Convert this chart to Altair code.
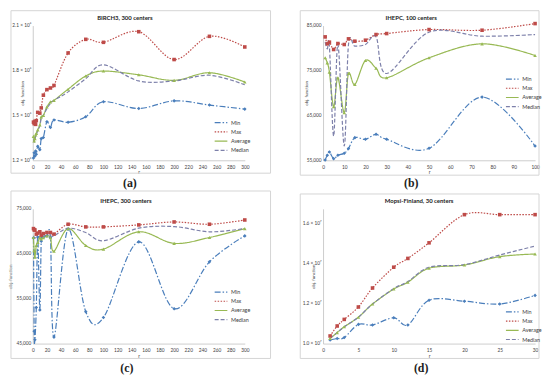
import altair as alt
import pandas as pd

SERIES = ["Min", "Max", "Average", "Median"]
COLORS = ["#4a7ebb", "#be4b48", "#98b954", "#7d80aa"]
DASHES = [[6, 2, 1.5, 2], [1.5, 1.5], [1, 0], [4, 2]]
SHAPES = ["diamond", "square", "triangle-up", None]
FONT = "Lato"

# (a) BIRCH3, 300 centers
a_title = "BIRCH3, 300 centers"
a_r = [1, 2, 3, 4, 5, 7, 10, 12, 15, 20, 25, 30, 50, 75, 100, 150, 200, 250, 300]
a_min = [1.215, 1.25, 1.228, 1.262, 1.24, 1.293, 1.271, 1.345, 1.352, 1.458, 1.419, 1.469, 1.454, 1.491, 1.591, 1.546, 1.597, 1.569, 1.542]
a_max = [1.455, 1.445, 1.46, 1.44, 1.465, 1.52, 1.515, 1.55, 1.635, 1.672, 1.683, 1.70, 1.917, 2.008, 1.988, 2.059, 1.873, 2.028, 1.957]
a_avg = [1.36, 1.33, 1.345, 1.37, 1.38, 1.403, 1.436, 1.49, 1.50, 1.556, 1.59, 1.60, 1.675, 1.763, 1.796, 1.771, 1.734, 1.785, 1.723]
a_med = [1.34, 1.32, 1.34, 1.36, 1.37, 1.40, 1.43, 1.48, 1.50, 1.545, 1.58, 1.60, 1.657, 1.745, 1.838, 1.73, 1.73, 1.768, 1.705]
a_xticks = list(range(0, 301, 20))
a_yticks = [1.2e6, 1.5e6, 1.8e6, 2.1e6]

# (b) IHEPC, 100 centers
b_title = "IHEPC, 100 centers"
b_r = [1, 2, 3, 5, 7, 10, 12, 15, 20, 25, 30, 50, 75, 100]
b_min = [55070, 56110, 56850, 55370, 56110, 56560, 57600, 60040, 59670, 60780, 59670, 57670, 69070, 58180]
b_max = [82480, 80930, 81300, 79670, 81000, 80780, 82040, 81520, 81740, 83000, 83220, 84110, 83960, 85440]
b_avg = [77820, 76700, 74630, 66930, 73370, 65600, 74330, 71890, 77220, 75500, 73370, 77820, 80930, 78330]
b_med = [81300, 79800, 80400, 60400, 80780, 58200, 80780, 80400, 80780, 82490, 74330, 83520, 82630, 83000]
b_xticks = list(range(0, 101, 10))
b_yticks = [55000, 65000, 75000, 85000]

# (c) IHEPC, 300 centers
c_title = "IHEPC, 300 centers"
c_r = [1, 2, 3, 5, 7, 10, 12, 15, 20, 25, 30, 50, 75, 100, 150, 200, 250, 300]
c_min = [68500, 47740, 45860, 53020, 68730, 52480, 67800, 68730, 68980, 68600, 46440, 70460, 52110, 50790, 67650, 52770, 63200, 68980]
c_max = [70600, 70300, 70300, 69370, 69600, 69890, 69150, 69500, 69740, 69740, 69370, 71570, 70980, 70980, 71420, 72080, 71570, 72520]
c_avg = [68620, 65700, 64240, 66840, 67500, 68600, 68300, 68600, 68980, 68600, 65550, 70600, 66840, 66040, 69890, 67310, 68620, 70600]
c_med = [68980, 68700, 68500, 68600, 68700, 68800, 68900, 69000, 69000, 69000, 68980, 70690, 69720, 67900, 70690, 71050, 69890, 70610]
c_xticks = list(range(0, 301, 20))
c_yticks = [45000, 55000, 65000, 75000]

# (d) Mopsi-Finland, 30 centers
d_title = "Mopsi-Finland, 30 centers"
d_r = [1, 2, 3, 5, 7, 10, 12, 15, 20, 25, 30]
d_min = [1.018, 1.025, 1.03, 1.096, 1.093, 1.129, 1.093, 1.217, 1.212, 1.198, 1.241]
d_max = [1.038, 1.088, 1.121, 1.183, 1.278, 1.382, 1.426, 1.504, 1.645, 1.645, 1.645]
d_avg = [1.026, 1.055, 1.084, 1.132, 1.198, 1.273, 1.307, 1.377, 1.393, 1.435, 1.448]
d_med = [1.026, 1.055, 1.084, 1.132, 1.198, 1.275, 1.31, 1.382, 1.395, 1.443, 1.488]
d_xticks = list(range(0, 31, 5))
d_yticks = [1.0e7, 1.2e7, 1.4e7, 1.6e7]

W, H = 214, 136


def long_table(r, series, scale=1.0):
    rows = []
    for name, vals in zip(SERIES, series):
        for x, v in zip(r, vals):
            rows.append({"r": x, "v": v * scale, "s": name})
    return pd.DataFrame(rows)


def one(text):
    return alt.Chart(pd.DataFrame({"t": [text]}))


def panel(title, caption, df, xdom, xticks, ydom, yticks, label_expr, fmt,
          legend_xy, box, title_xy, cap_xy, ytitle_x):
    x = alt.X("r:Q", scale=alt.Scale(domain=xdom, nice=False, zero=False),
              axis=alt.Axis(values=xticks, title="r", titleFontSize=5, titlePadding=1,
                            titleFont=FONT, titleFontWeight="normal", titleColor="#404040",
                            labelFontSize=4.8, labelFont=FONT, labelColor="#404040",
                            labelPadding=4, ticks=False, grid=False, domainColor="#bfbfbf",
                            domainWidth=0.8, labelFlush=False))
    yaxis = dict(values=yticks, title="obj. function", titleFontSize=4.5, titleFont=FONT,
                 titleFontWeight="normal", titleColor="#404040", titleX=ytitle_x, titleY=H / 2,
                 titleAngle=-90, titleAlign="center", titleBaseline="middle",
                 labelFontSize=4.8, labelFont=FONT, labelColor="#404040", labelPadding=2,
                 ticks=False, grid=False, domainColor="#bfbfbf", domainWidth=0.8, labelFlush=False)
    if label_expr:
        yaxis["labelExpr"] = label_expr
    else:
        yaxis["format"] = fmt
    y = alt.Y("v:Q", scale=alt.Scale(domain=ydom, nice=False, zero=False), axis=alt.Axis(**yaxis))
    leg = alt.Legend(orient="none", legendX=legend_xy[0], legendY=legend_xy[1], title=None,
                     symbolType="M-1.6,0L1.6,0", symbolSize=64, symbolStrokeWidth=1.2,
                     labelFontSize=5.5, labelFont=FONT, labelColor="#404040",
                     rowPadding=0.3, labelOffset=5, padding=0)
    base = alt.Chart(df)
    lines = base.mark_line(interpolate="cardinal", strokeWidth=1.2).encode(
        x=x, y=y,
        color=alt.Color("s:N", scale=alt.Scale(domain=SERIES, range=COLORS), legend=leg, sort=SERIES),
        strokeDash=alt.StrokeDash("s:N", scale=alt.Scale(domain=SERIES, range=DASHES), legend=leg, sort=SERIES),
    )
    layers = [lines]
    for name, col, shp in zip(SERIES, COLORS, SHAPES):
        if shp is None:
            continue
        layers.append(base.transform_filter(alt.datum.s == name).mark_point(
            filled=True, size=13, opacity=1, shape=shp, color=col).encode(x=x, y=y))
    frame = one("").mark_rect(fillOpacity=0, stroke="#d4d4d4", strokeWidth=1).encode(
        x=alt.value(box[0]), x2=alt.value(box[1]), y=alt.value(box[2]), y2=alt.value(box[3]))
    ttl = one(title).mark_text(font=FONT, fontSize=6, fontWeight="bold", color="#1a1a1a",
                               baseline="middle").encode(
        x=alt.value(title_xy[0]), y=alt.value(title_xy[1]), text="t:N")
    cap = one(caption).mark_text(font="Liberation Serif", fontSize=12, fontWeight="bold",
                                 color="#222222", baseline="middle").encode(
        x=alt.value(cap_xy[0]), y=alt.value(cap_xy[1]), text="t:N")
    return alt.layer(frame, *layers, ttl, cap).properties(width=W, height=H)


pa = panel(a_title, "(a)", long_table(a_r, [a_min, a_max, a_avg, a_med], 1e6),
           [0, 300], a_xticks, [1.2e6, 2.1e6], a_yticks,
           "format(datum.value / 1000000, '.1f') + ' × 10⁶'", None,
           (185, 93), (-22, W + 26, -15, 149), (93, -8), (98, 159), -10)
pb = panel(b_title, "(b)", long_table(b_r, [b_min, b_max, b_avg, b_med]),
           [0, 100], b_xticks, [55000, 85000], b_yticks, None, ",d",
           (186, 49), (-23, W + 4, -15, 151), (89, -8), (89, 159), -17)
pc = panel(c_title, "(c)", long_table(c_r, [c_min, c_max, c_avg, c_med]),
           [0, 300], c_xticks, [45000, 75000], c_yticks, None, ",d",
           (185, 79), (-22, W + 26, -18, 151), (94, -8), (95, 161), -22)
pd_ = panel(d_title, "(d)", long_table(d_r, [d_min, d_max, d_avg, d_med], 1e7),
            [0, 30], d_xticks, [1.0e7, 1.674e7], d_yticks,
            "format(datum.value / 10000000, '.1f') + ' × 10⁷'", None,
            (186, 99), (-23, W + 4, -15, 151), (97, -8), (99, 161), -10)

chart = alt.concat(pa, pb, pc, pd_, columns=2, spacing={"row": 49, "column": 79},
                   bounds="flush").resolve_scale(
    color="independent", strokeDash="independent"
).properties(padding=0).configure_view(stroke=None)

chart.save("out.html", embed_options={"renderer": "svg", "actions": False})
